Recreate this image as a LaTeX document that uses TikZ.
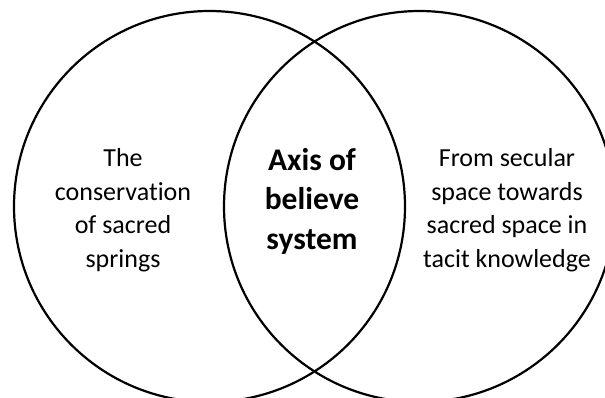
\documentclass[tikz,border=0pt]{standalone}
\usepackage{fontspec}
\setmainfont{Carlito}[Ligatures=NoCommon]
\begin{document}
\begin{tikzpicture}[x=1pt,y=-1pt,
  ring/.style={draw=black,line width=2.2pt},
  sidetext/.style={align=center,font=\fontsize{26}{33.5}\selectfont},
  coretext/.style={align=center,font=\fontsize{31.5}{39.5}\selectfont\bfseries}]
  \useasboundingbox (0,0) rectangle (605,397);
  \begin{scope}
    \clip (0,0) rectangle (605,397);
    \draw[ring] (209.5,206.5) circle[radius=195.5] coordinate (lc);
    \draw[ring] (419.5,206.5) circle[radius=195.5] coordinate (rc);
  \end{scope}
  \node[sidetext] (left) at (123,210) {The\\conservation\\of sacred\\springs};
  \node[sidetext] (right) at (507,210) {From secular\\space towards\\sacred space in\\tacit knowledge};
  \node[coretext] (core) at (312,201) {Axis of\\believe\\system};
\end{tikzpicture}
\end{document}
